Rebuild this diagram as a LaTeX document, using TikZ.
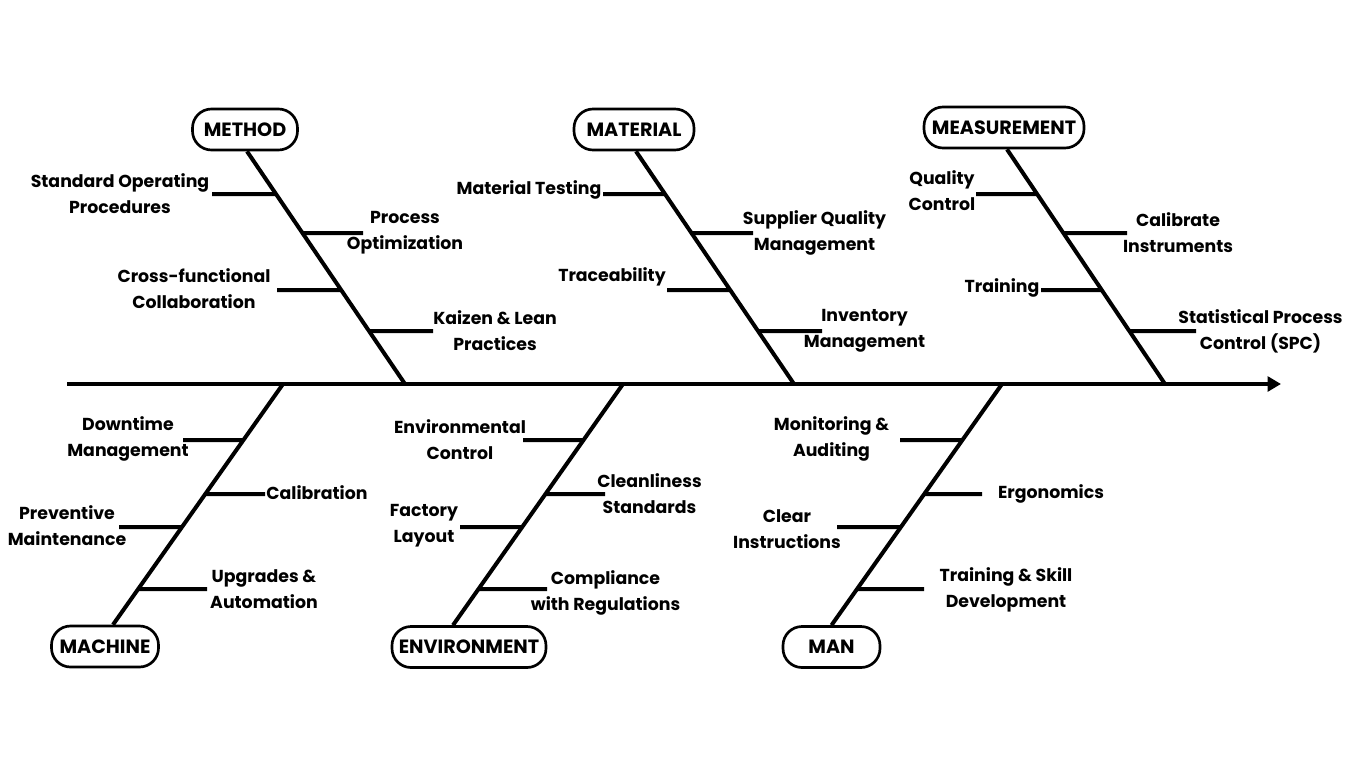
\documentclass[tikz,border=0pt]{standalone}
\usepackage{fontspec}
\setmainfont{Poppins}
\usetikzlibrary{arrows.meta,calc}
\newdimen\px \px=0.75pt
\newcommand\lbfont{\fontsize{13}{19.5}\selectfont\bfseries}
\newcommand\bxfont{\fontsize{14.4}{19.5}\selectfont\bfseries}
\newcommand\fbrib[5]{%
  \coordinate (#1s) at (intersection of #2--#3 and 0,#4--10,#4);
  \coordinate (#1e) at (#5,#4);
  \draw[ribline] (#1s) -- (#1e);}
\tikzset{
  x=0.75pt, y=-0.75pt,
  lbl/.style={align=center, font=\lbfont, inner sep=0pt},
  catbox/.style={draw, line width=2pt, rounded corners=19\px, minimum height=41\px, inner sep=0pt, font=\bxfont},
  bone/.style={line width=3pt},
  ribline/.style={line width=3pt},
}
\begin{document}
\begin{tikzpicture}
\useasboundingbox (0,0) rectangle (1366,768);
% spine
\coordinate (tail) at (67,384);
\coordinate (head) at (1281,384);
\draw[line width=3pt, -{Triangle[length=10pt,width=11pt]}] (tail) -- (head);
% category boxes
\node[catbox, minimum width=105\px] (method) at (245,129.5) {METHOD};
\node[catbox, minimum width=120\px] (material) at (634,129.5) {MATERIAL};
\node[catbox, minimum width=160\px] (measure) at (1004,127.5) {MEASUREMENT};
\node[catbox, minimum width=107\px] (machine) at (105,646.5) {MACHINE};
\node[catbox, minimum width=154\px] (environ) at (469,647) {ENVIRONMENT};
\node[catbox, minimum width=97\px] (man) at (831.5,647) {MAN};
% bone ends on spine
\coordinate (Mb) at (405,384);
\coordinate (Tb) at (794,384);
\coordinate (Sb) at (1165,384);
\coordinate (Cb) at (283,384);
\coordinate (Eb) at (623,384);
\coordinate (Nb) at (1002,384);
\coordinate (Mt) at ([xshift=2\px]method.south);
\coordinate (Tt) at ([xshift=2\px]material.south);
\coordinate (St) at ([xshift=3\px]measure.south);
\coordinate (Ct) at ([xshift=8\px]machine.north);
\coordinate (Et) at ([xshift=-16\px]environ.north);
\coordinate (Nt) at (man.north);
\draw[bone] (Mt) -- (Mb);
\draw[bone] (Tt) -- (Tb);
\draw[bone] (St) -- (Sb);
\draw[bone] (Ct) -- (Cb);
\draw[bone] (Et) -- (Eb);
\draw[bone] (Nt) -- (Nb);
% ribs: METHOD
\fbrib{ma}{Mt}{Mb}{194}{212}
\fbrib{mb}{Mt}{Mb}{233}{363}
\fbrib{mc}{Mt}{Mb}{290}{277}
\fbrib{md}{Mt}{Mb}{331}{433}
% MATERIAL
\fbrib{ta}{Tt}{Tb}{194}{603}
\fbrib{tb}{Tt}{Tb}{233}{753}
\fbrib{tc}{Tt}{Tb}{290}{667}
\fbrib{td}{Tt}{Tb}{331}{822}
% MEASUREMENT
\fbrib{sa}{St}{Sb}{194}{976}
\fbrib{sb}{St}{Sb}{233}{1127}
\fbrib{sc}{St}{Sb}{290}{1041}
\fbrib{sd}{St}{Sb}{331}{1196}
% MACHINE
\fbrib{ca}{Ct}{Cb}{440}{183}
\fbrib{cb}{Ct}{Cb}{494}{265}
\fbrib{cc}{Ct}{Cb}{527}{119}
\fbrib{cd}{Ct}{Cb}{589}{207}
% ENVIRONMENT
\fbrib{ea}{Et}{Eb}{440}{523}
\fbrib{eb}{Et}{Eb}{494}{605}
\fbrib{ec}{Et}{Eb}{527}{460}
\fbrib{ed}{Et}{Eb}{589}{547}
% MAN
\fbrib{na}{Nt}{Nb}{440}{900}
\fbrib{nb}{Nt}{Nb}{494}{982}
\fbrib{nc}{Nt}{Nb}{527}{837}
\fbrib{nd}{Nt}{Nb}{589}{924}
% labels
\node[lbl] (lma) at (120,194) {Standard Operating\\Procedures};
\node[lbl] (lmb) at (405,232.5) {Process\\Optimization};
\node[lbl] (lmc) at (194,289) {Cross-functional\\Collaboration};
\node[lbl] (lmd) at (495,330.5) {Kaizen \& Lean\\Practices};
\node[lbl] (lta) at (529,190) {Material Testing};
\node[lbl] (ltb) at (814.5,232.5) {Supplier Quality\\Management};
\node[lbl] (ltc) at (612,277) {Traceability};
\node[lbl] (ltd) at (864.5,331) {Inventory\\Management};
\node[lbl] (lsa) at (942,191) {Quality\\Control};
\node[lbl] (lsb) at (1178,232.5) {Calibrate\\Instruments};
\node[lbl] (lsc) at (1002,288) {Training};
\node[lbl] (lsd) at (1260.5,331) {Statistical Process\\Control (SPC)};
\node[lbl] (lca) at (128,439) {Downtime\\Management};
\node[lbl] (lcb) at (317,493) {Calibration};
\node[lbl] (lcc) at (67,526) {Preventive\\Maintenance};
\node[lbl] (lcd) at (264,589.5) {Upgrades \&\\Automation};
\node[lbl] (lea) at (460,440) {Environmental\\Control};
\node[lbl] (leb) at (649.5,494) {Cleanliness\\Standards};
\node[lbl] (lec) at (424,526) {Factory\\Layout};
\node[lbl] (led) at (605.5,592.5) {Compliance\\with Regulations};
\node[lbl] (lna) at (831.5,439) {Monitoring \&\\Auditing};
\node[lbl] (lnb) at (1051,494) {Ergonomics};
\node[lbl] (lnc) at (787,529.5) {Clear\\Instructions};
\node[lbl] (lnd) at (1006,589.5) {Training \& Skill\\Development};
\end{tikzpicture}
\end{document}
